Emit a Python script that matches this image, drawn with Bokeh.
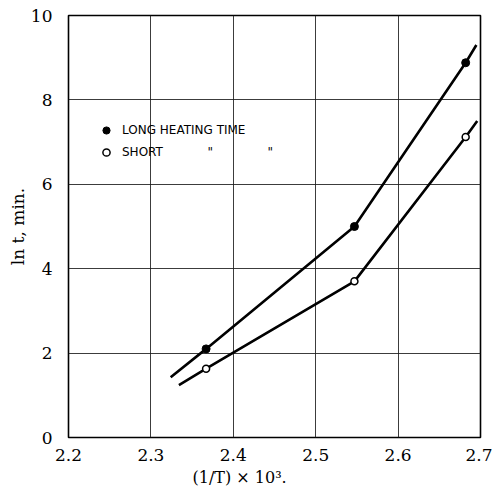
from bokeh.plotting import figure
from bokeh.models import FixedTicker, Label, Legend, LegendItem, Title
from bokeh.embed import file_html
from bokeh.resources import INLINE

# ---- data ----
x_ticks = [2.2, 2.3, 2.4, 2.5, 2.6, 2.7]
y_ticks = [0, 2, 4, 6, 8, 10]
inv_T = [2.367, 2.547, 2.682]
ln_t_long = [2.10, 5.00, 8.88]
ln_t_short = [1.63, 3.70, 7.12]
# drawn curves (extend slightly beyond the measured points)
long_curve_x = [2.324, 2.367, 2.547, 2.682, 2.695]
long_curve_y = [1.43, 2.10, 5.00, 8.88, 9.30]
short_curve_x = [2.334, 2.367, 2.547, 2.682, 2.696]
short_curve_y = [1.24, 1.63, 3.70, 7.12, 7.50]

SERIF = "DejaVu Serif"
SANS = "DejaVu Sans"

p = figure(width=492, height=488, x_range=(2.2, 2.7), y_range=(0, 10),
           output_backend="svg", toolbar_location=None,
           min_border_left=68, min_border_right=12, min_border_top=15, min_border_bottom=51)
p.title.visible = False

p.xaxis.ticker = FixedTicker(ticks=x_ticks)
p.yaxis.ticker = FixedTicker(ticks=y_ticks)
p.axis.major_tick_line_color = None
p.axis.minor_tick_line_color = None
p.axis.axis_line_color = None
p.axis.major_label_text_font = SERIF
p.axis.major_label_text_font_size = "17px"
p.axis.major_label_text_color = "black"
p.xaxis.major_label_standoff = 5
p.yaxis.major_label_standoff = 10
p.yaxis.axis_label = "ln t, min."
p.yaxis.axis_label_text_font = SERIF
p.yaxis.axis_label_text_font_size = "17px"
p.yaxis.axis_label_text_font_style = "normal"
p.yaxis.axis_label_text_color = "black"
p.yaxis.axis_label_standoff = 0

p.grid.grid_line_color = "#1a1a1a"
p.grid.grid_line_width = 1
p.grid.grid_line_alpha = 0.85
p.outline_line_color = "black"
p.outline_line_width = 1.6
p.outline_line_alpha = 1

p.line(long_curve_x, long_curve_y, line_color="black", line_width=2.6)
p.line(short_curve_x, short_curve_y, line_color="black", line_width=2.6)
r_long = p.scatter(inv_T, ln_t_long, marker="circle", size=8,
                   fill_color="black", line_color="black")
r_short = p.scatter(inv_T, ln_t_short, marker="circle", size=7,
                    fill_color="white", line_color="black", line_width=1.5)

legend = Legend(items=[LegendItem(label="LONG HEATING TIME", renderers=[r_long]),
                       LegendItem(label="SHORT", renderers=[r_short])],
                location=(29, 276), margin=0, padding=0,
                glyph_width=18, glyph_height=18, label_height=18,
                label_standoff=7, spacing=4,
                label_text_font=SANS, label_text_font_size="12px",
                label_text_color="black",
                border_line_alpha=0, background_fill_alpha=0)
p.add_layout(legend)

for dx in [2.372, 2.445]:
    p.add_layout(Label(x=dx, y=6.77, text='"', text_font=SANS, text_font_size="12px",
                       text_align="center", text_baseline="middle", text_color="black"))

xlabel = Title(text="(1/T) × 10³.", align="left", offset=124, standoff=4,
               text_font=SERIF, text_font_size="16px", text_font_style="normal",
               text_color="black")
p.add_layout(xlabel, "below")

open("out.html", "w").write(file_html(p, INLINE))
